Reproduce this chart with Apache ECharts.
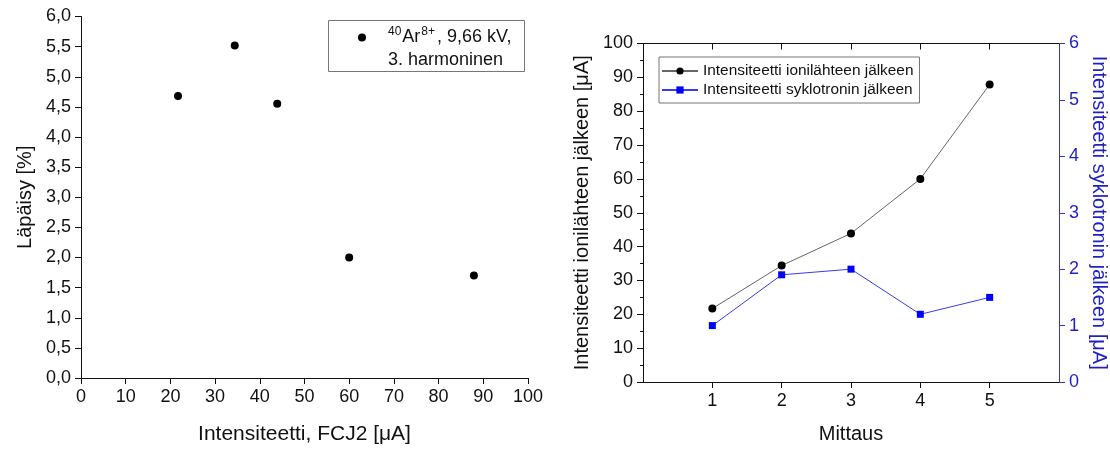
<!DOCTYPE html>
<html>
<head>
<meta charset="utf-8">
<script src="https://cdn.jsdelivr.net/npm/echarts@6/dist/echarts.min.js"></script>
<style>
  html, body { margin: 0; padding: 0; background: #fff; }
  #chart { width: 1110px; height: 450px; }
</style>
</head>
<body>
<div id="chart"></div>
<script>
// Measurement series
const measurements = [1, 2, 3, 4, 5];
const ionSourceCurrent = [21.7, 34.4, 43.9, 60.0, 87.9];   // μA after the ion source
const cyclotronCurrent = [1.0, 1.9, 2.0, 1.2, 1.5];        // μA after the cyclotron
const transmission = [4.68, 5.52, 4.55, 2.0, 1.7];          // % transmission

const NAME_AR = 'Ar 9,66 kV 3. harmoninen';
const NAME_ION = 'Intensiteetti ionilähteen jälkeen';
const NAME_CYC = 'Intensiteetti syklotronin jälkeen';

const FONT = "'Liberation Sans', Arial, sans-serif";
const INK = '#111';
const BLUE = '#0000ff';
const BLUE_AXIS = '#3535d6';
const TICK_FS = 18;
const NAME_FS = 20;

function axis(extra) {
  const base = {
    axisLine: { show: true, onZero: false, lineStyle: { color: INK, width: 1 } },
    axisTick: { show: true, inside: false, length: 6, lineStyle: { color: INK, width: 1 } },
    axisLabel: { color: INK, fontSize: TICK_FS, fontFamily: FONT, margin: 10 },
    splitLine: { show: false },
    nameLocation: 'middle',
    nameTextStyle: { color: INK, fontSize: NAME_FS, fontFamily: FONT }
  };
  const out = Object.assign({}, base, extra);
  ['axisLine', 'axisTick', 'axisLabel', 'nameTextStyle'].forEach(k => {
    if (extra[k]) out[k] = Object.assign({}, base[k], extra[k]);
  });
  return out;
}

const chart = echarts.init(document.getElementById('chart'));

chart.setOption({
  animation: false,
  backgroundColor: '#fff',
  textStyle: { fontFamily: FONT },
  grid: [
    { left: 81, top: 16.5, width: 447, height: 364 },
    { left: 643, top: 43.5, width: 416, height: 338.5 }
  ],
  xAxis: [
    axis({
      gridIndex: 0, type: 'value', min: 0, max: 100, interval: 10,
      name: 'Intensiteetti, FCJ2 [μA]', nameGap: 46,
      nameTextStyle: { fontSize: 21 }
    }),
    axis({
      gridIndex: 1, type: 'value', min: 0, max: 6, interval: 1,
      name: 'Mittaus', nameGap: 42,
      axisTick: { customValues: measurements },
      axisLabel: { customValues: measurements }
    }),
    axis({
      gridIndex: 1, type: 'value', position: 'top', min: 0, max: 6, interval: 1,
      axisTick: { inside: true, customValues: measurements },
      axisLabel: { show: false }
    })
  ],
  yAxis: [
    axis({
      gridIndex: 0, type: 'value', min: 0, max: 6, interval: 0.5,
      name: 'Läpäisy [%]', nameGap: 46,
      axisLabel: { formatter: v => v.toFixed(1).replace('.', ',') }
    }),
    axis({
      gridIndex: 1, type: 'value', min: 0, max: 100, interval: 10,
      name: 'Intensiteetti ionilähteen jälkeen [μA]', nameGap: 51,
      minorTick: { show: true, splitNumber: 2, length: 3, lineStyle: { color: INK } }
    }),
    axis({
      gridIndex: 1, type: 'value', position: 'right', min: 0, max: 6, interval: 1,
      name: 'Intensiteetti syklotronin jälkeen [μA]', nameGap: 30, nameRotate: -90,
      axisLine: { lineStyle: { color: BLUE_AXIS } },
      axisTick: { lineStyle: { color: BLUE_AXIS } },
      axisLabel: { color: '#1f1fc4' },
      nameTextStyle: { color: '#1f1fc4' }
    })
  ],
  legend: [
    {
      data: [{ name: NAME_AR, icon: 'circle' }],
      left: 358, top: 26, padding: 0,
      itemWidth: 42, itemHeight: 8,
      selectedMode: false,
      formatter: () => '{sup|40}{t|Ar}{sup2|8+}{t|, 9,66 kV,}\n{t|3. harmoninen}',
      textStyle: {
        padding: [23, 0, 0, 0],
        rich: {
          t: { fontSize: 18, lineHeight: 23, fontFamily: FONT, color: INK },
          sup: { fontSize: 12, lineHeight: 23, verticalAlign: 'top', padding: [0, 1, 0, 0], fontFamily: FONT, color: INK },
          sup2: { fontSize: 12, lineHeight: 23, verticalAlign: 'top', padding: [0, 2, 0, 1], fontFamily: FONT, color: INK }
        }
      }
    },
    {
      data: [NAME_ION, NAME_CYC],
      orient: 'vertical',
      left: 659, top: 57,
      padding: [5, 6, 4, 2],
      itemWidth: 36, itemHeight: 9, itemGap: 1,
      selectedMode: false,
      borderColor: '#777', borderWidth: 1,
      textStyle: { fontSize: 15.4, lineHeight: 18, fontFamily: FONT, color: INK }
    }
  ],
  graphic: [
    {
      type: 'rect', silent: true,
      shape: { x: 328.5, y: 20.5, width: 196, height: 51 },
      style: { fill: 'none', stroke: '#777', lineWidth: 1 }
    }
  ],
  series: [
    {
      name: NAME_AR, type: 'scatter', xAxisIndex: 0, yAxisIndex: 0,
      symbol: 'circle', symbolSize: 8,
      itemStyle: { color: '#000', opacity: 1 },
      data: ionSourceCurrent.map((x, i) => [x, transmission[i]])
    },
    {
      name: NAME_ION, type: 'line', xAxisIndex: 1, yAxisIndex: 1,
      symbol: 'circle', symbolSize: 8,
      itemStyle: { color: '#000' },
      lineStyle: { color: '#666', width: 1 },
      data: measurements.map((m, i) => [m, ionSourceCurrent[i]])
    },
    {
      name: NAME_CYC, type: 'line', xAxisIndex: 1, yAxisIndex: 2,
      symbol: 'rect', symbolSize: 7,
      itemStyle: { color: BLUE },
      lineStyle: { color: '#3a3af0', width: 1 },
      data: measurements.map((m, i) => [m, cyclotronCurrent[i]])
    }
  ]
});
</script>
</body>
</html>
